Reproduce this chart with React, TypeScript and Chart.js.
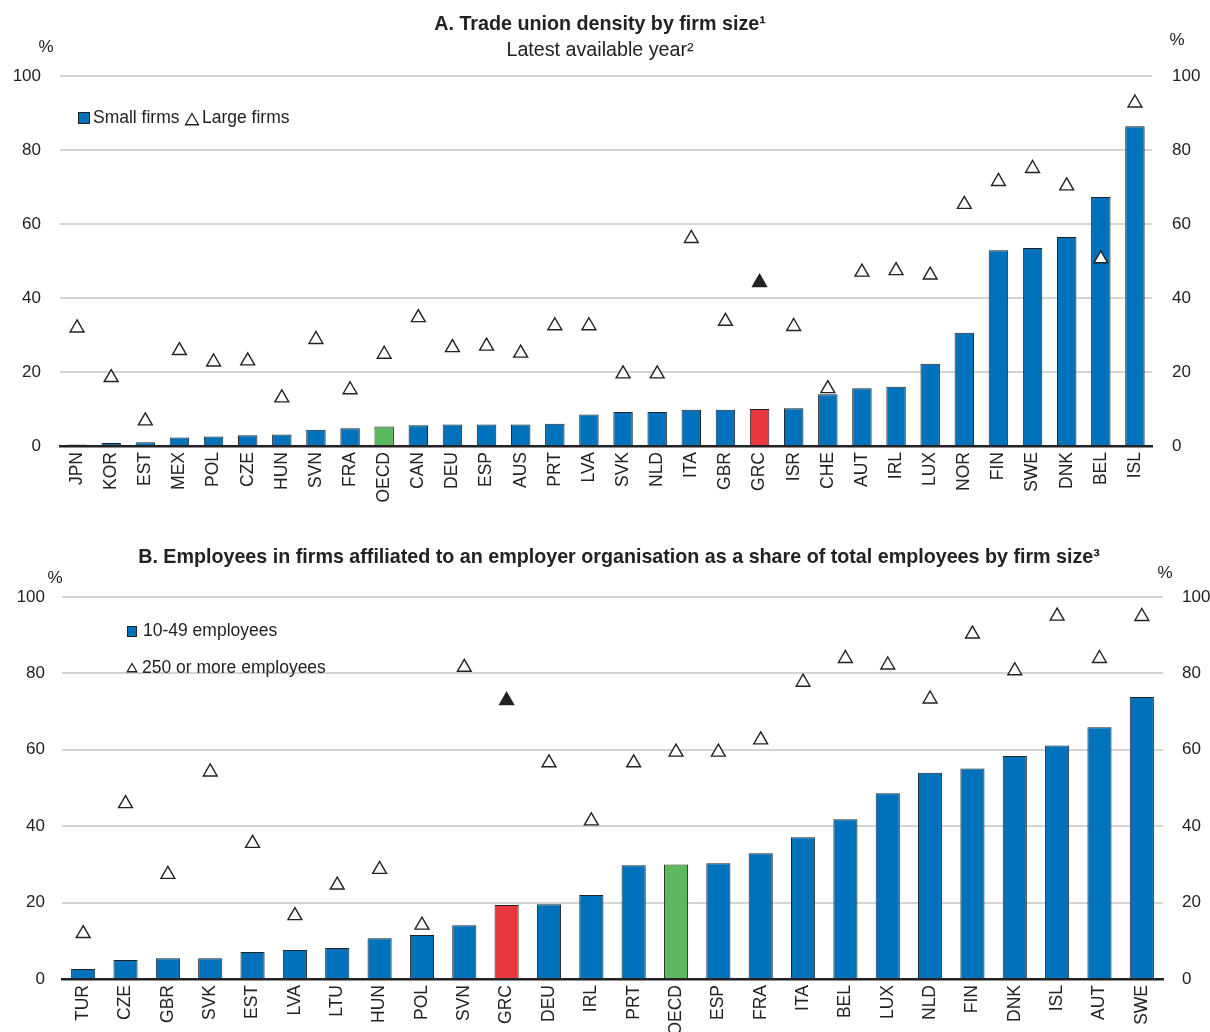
import React, { useEffect, useRef } from "react";
import { Chart, registerables } from "chart.js";

Chart.register(...registerables);

const FONT = '"Liberation Sans", Arial, Helvetica, sans-serif';
const BLUE = "#0072bc";
const GREEN = "#5cb85c";
const RED = "#e8383d";
const DARK = "#222222";
const GRID = "#d4d4d4";

// ---- Panel A: trade union density by firm size ----
const countriesA = ["JPN", "KOR", "EST", "MEX", "POL", "CZE", "HUN", "SVN", "FRA", "OECD", "CAN", "DEU", "ESP", "AUS", "PRT", "LVA", "SVK", "NLD", "ITA", "GBR", "GRC", "ISR", "CHE", "AUT", "IRL", "LUX", "NOR", "FIN", "SWE", "DNK", "BEL", "ISL"];
const smallFirms = [0.4, 0.8, 1.0, 2.3, 2.6, 2.9, 3.1, 4.4, 4.8, 5.3, 5.6, 5.8, 5.8, 5.8, 6.0, 8.5, 9.2, 9.2, 9.8, 9.8, 10.0, 10.2, 14.0, 15.6, 16.0, 22.2, 30.6, 52.9, 53.5, 56.5, 67.3, 86.4];
const largeFirms = [31.9, 18.5, 6.8, 25.8, 22.7, 23.0, 13.0, 28.8, 15.2, 24.8, 34.7, 26.6, 27.0, 25.1, 32.5, 32.5, 19.5, 19.5, 56.1, 33.7, 44.2, 32.3, 15.5, 47.0, 47.4, 46.2, 65.3, 71.5, 75.0, 70.3, 50.6, 92.7];

// ---- Panel B: employer organisation affiliation by firm size ----
const countriesB = ["TUR", "CZE", "GBR", "SVK", "EST", "LVA", "LTU", "HUN", "POL", "SVN", "GRC", "DEU", "IRL", "PRT", "OECD", "ESP", "FRA", "ITA", "BEL", "LUX", "NLD", "FIN", "DNK", "ISL", "AUT", "SWE"];
const emp10to49 = [2.6, 5.0, 5.4, 5.4, 7.1, 7.6, 8.1, 10.7, 11.5, 14.1, 19.4, 19.6, 22.0, 29.8, 30.0, 30.3, 32.9, 37.1, 41.8, 48.6, 54.0, 55.1, 58.4, 61.1, 65.9, 73.8];
const emp250plus = [11.9, 45.9, 27.4, 54.2, 35.5, 16.6, 24.6, 28.7, 14.1, 81.6, 72.9, 56.6, 41.4, 56.6, 59.4, 59.4, 62.6, 77.7, 83.9, 82.2, 73.3, 90.3, 80.7, 95.0, 83.9, 94.9];

const yTicks = [0, 20, 40, 60, 80, 100];

type TextItem = { text: string; x: number; y: number; bold?: boolean; size: number; align: CanvasTextAlign };
type LegendItem = { kind: "box" | "tri"; x: number; y: number; w: number; h: number; text: string; tx: number; ty: number };

type PanelProps = {
  height: number;
  area: { left: number; right: number; top: number; bottom: number };
  leftPad: number;
  rightPad: number;
  labels: string[];
  bars: number[];
  points: number[];
  barLabel: string;
  pointLabel: string;
  texts: TextItem[];
  legend: LegendItem[];
};

function drawTriangle(ctx: CanvasRenderingContext2D, cx: number, cy: number, r: number, fill: string) {
  ctx.beginPath();
  ctx.moveTo(cx, cy - r);
  ctx.lineTo(cx + r * 0.866, cy + r / 2);
  ctx.lineTo(cx - r * 0.866, cy + r / 2);
  ctx.closePath();
  ctx.fillStyle = fill;
  ctx.fill();
  ctx.lineWidth = 1.3;
  ctx.strokeStyle = DARK;
  ctx.stroke();
}

function Panel(p: PanelProps) {
  const ref = useRef<HTMLCanvasElement>(null);
  useEffect(() => {
    const canvas = ref.current;
    if (!canvas) return;
    const barColors = p.labels.map((l) => (l === "OECD" ? GREEN : l === "GRC" ? RED : BLUE));
    const pointFill = p.labels.map((l) => (l === "GRC" ? DARK : "#ffffff"));

    const extras = {
      id: "extras",
      afterDraw(chart: any) {
        const ctx: CanvasRenderingContext2D = chart.ctx;
        ctx.save();
        ctx.textBaseline = "middle";
        for (const t of p.texts) {
          ctx.fillStyle = DARK;
          ctx.font = `${t.bold ? "bold " : ""}${t.size}px ${FONT}`;
          ctx.textAlign = t.align;
          ctx.fillText(t.text, t.x, t.y);
        }
        for (const item of p.legend) {
          if (item.kind === "box") {
            ctx.fillStyle = BLUE;
            ctx.fillRect(item.x, item.y, item.w, item.h);
            ctx.lineWidth = 1;
            ctx.strokeStyle = DARK;
            ctx.strokeRect(item.x + 0.5, item.y + 0.5, item.w - 1, item.h - 1);
          } else {
            drawTriangle(ctx, item.x, item.y, item.w, "#ffffff");
          }
          ctx.fillStyle = DARK;
          ctx.font = `17.5px ${FONT}`;
          ctx.textAlign = "left";
          ctx.fillText(item.text, item.tx, item.ty);
        }
        ctx.restore();
      },
    };

    const yFont = { family: FONT, size: 17 };
    const xFont = { family: FONT, size: 17.5 };

    const chart = new Chart(canvas, {
      type: "bar",
      data: {
        labels: p.labels,
        datasets: [
          {
            type: "line",
            label: p.pointLabel,
            data: p.points,
            showLine: false,
            pointStyle: "triangle",
            pointRadius: 8,
            pointHoverRadius: 8,
            pointBorderWidth: 1.4,
            pointBorderColor: DARK,
            pointBackgroundColor: pointFill,
            borderColor: DARK,
            backgroundColor: pointFill,
            order: 0,
            clip: false,
          } as any,
          {
            type: "bar",
            label: p.barLabel,
            data: p.bars,
            backgroundColor: barColors,
            borderColor: DARK,
            borderWidth: 1,
            borderSkipped: "bottom",
            barPercentage: 0.57,
            categoryPercentage: 1,
            order: 1,
          } as any,
        ],
      },
      options: {
        responsive: false,
        animation: false,
        events: [],
        layout: { padding: { top: p.area.top, left: 0, right: 0, bottom: 0 } },
        plugins: {
          legend: { display: false },
          title: { display: false },
          tooltip: { enabled: false },
        },
        scales: {
          x: {
            type: "category",
            offset: true,
            grid: { display: false, drawTicks: false },
            border: { display: true, color: DARK, width: 2.5 },
            ticks: {
              color: DARK,
              font: xFont,
              minRotation: 90,
              maxRotation: 90,
              autoSkip: false,
              padding: 6,
            },
            afterFit: (s: any) => {
              s.height = p.height - p.area.bottom;
            },
          },
          y: {
            position: "left",
            min: 0,
            max: 100,
            afterBuildTicks: (s: any) => {
              s.ticks = yTicks.map((v) => ({ value: v }));
            },
            ticks: { color: DARK, font: yFont, padding: p.leftPad },
            grid: {
              color: (c: any) => (c.tick && c.tick.value === 0 ? "rgba(0,0,0,0)" : GRID),
              lineWidth: 2,
              drawTicks: false,
            },
            border: { display: false },
            afterFit: (s: any) => {
              s.width = p.area.left;
            },
          },
          y2: {
            position: "right",
            min: 0,
            max: 100,
            afterBuildTicks: (s: any) => {
              s.ticks = yTicks.map((v) => ({ value: v }));
            },
            ticks: { color: DARK, font: yFont, padding: p.rightPad },
            grid: { display: false, drawTicks: false },
            border: { display: false },
            afterFit: (s: any) => {
              s.width = 1210 - p.area.right;
            },
          },
        },
      } as any,
      plugins: [extras],
    });
    return () => chart.destroy();
  }, []);
  return (
    <canvas
      ref={ref}
      width={1210}
      height={p.height}
      style={{ display: "block", width: 1210, height: p.height }}
    />
  );
}

export default function App() {
  return (
    <div
      style={{
        position: "absolute",
        left: 0,
        top: 0,
        width: 1210,
        height: 1032,
        background: "#ffffff",
        overflow: "hidden",
      }}
    >
      <Panel
        height={520}
        area={{ left: 60, right: 1152, top: 76, bottom: 446 }}
        leftPad={19}
        rightPad={20}
        labels={countriesA}
        bars={smallFirms}
        points={largeFirms}
        barLabel="Small firms"
        pointLabel="Large firms"
        texts={[
          { text: "A. Trade union density by firm size\u00b9", x: 600, y: 25, bold: true, size: 19.7, align: "center" },
          { text: "Latest available year\u00b2", x: 600, y: 51, size: 19.7, align: "center" },
          { text: "%", x: 46, y: 47, size: 17, align: "center" },
          { text: "%", x: 1177, y: 40, size: 17, align: "center" },
        ]}
        legend={[
          { kind: "box", x: 78, y: 112, w: 12, h: 12, text: "Small firms", tx: 93, ty: 118 },
          { kind: "tri", x: 192, y: 121, w: 7.5, h: 0, text: "Large firms", tx: 202, ty: 118 },
        ]}
      />
      <Panel
        height={512}
        area={{ left: 62, right: 1163, top: 77, bottom: 459 }}
        leftPad={17}
        rightPad={19}
        labels={countriesB}
        bars={emp10to49}
        points={emp250plus}
        barLabel="10-49 employees"
        pointLabel="250 or more employees"
        texts={[
          {
            text: "B. Employees in firms affiliated to an employer organisation as a share of total employees by firm size\u00b3",
            x: 619,
            y: 38,
            bold: true,
            size: 19.7,
            align: "center",
          },
          { text: "%", x: 55, y: 58, size: 17, align: "center" },
          { text: "%", x: 1165, y: 53, size: 17, align: "center" },
        ]}
        legend={[
          { kind: "box", x: 127, y: 106, w: 10, h: 11, text: "10-49 employees", tx: 143, ty: 111.5 },
          { kind: "tri", x: 132, y: 149, w: 5.5, h: 0, text: "250 or more employees", tx: 142, ty: 148 },
        ]}
      />
    </div>
  );
}
